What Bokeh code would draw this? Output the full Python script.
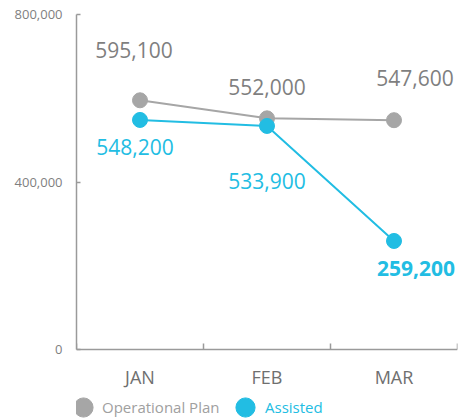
import numpy as np
from bokeh.plotting import figure
from bokeh.models import (ColumnDataSource, FactorRange, Range1d, LinearAxis, CategoricalAxis,
                          FixedTicker, Legend, LegendItem, NumeralTickFormatter)
from bokeh.core.properties import value
from bokeh.embed import file_html
from bokeh.resources import INLINE

# ---- data ----
months = ["JAN", "FEB", "MAR"]
plan = [595100, 552000, 547600]
assisted = [548200, 533900, 259200]
y_ticks = [0, 400000, 800000]
series_names = ["Operational Plan", "Assisted"]

# ---- style ----
GRAY = "#a6a6a6"
GRAY_TEXT = "#7f7f7f"
AXIS = "#9a9a9a"
CYAN = "#22bde3"
FONT = "Open Sans"

W, H = 460, 420
TOP, AXIS_Y, LEFT, RIGHT = 14, 349, 76, 457   # layout in px
# frame runs down to the canvas bottom; value 0 sits at AXIS_Y
y_start = -y_ticks[-1] * (H - AXIS_Y) / (AXIS_Y - TOP)

# label offsets (screen px) per point
plan_dx = [-6, 0, 21]
plan_dy = [-50, -31, -42]
asst_dx = [-5, 0, 22]
asst_dy = [27, 55, 28]
asst_style = ["normal", "normal", "bold"]

p = figure(width=W, height=H,
           x_range=FactorRange(factors=months, range_padding=0),
           y_range=Range1d(y_start, y_ticks[-1]),
           output_backend="svg", toolbar_location=None,
           x_axis_location=None, y_axis_location=None,
           min_border_left=LEFT, min_border_right=W - RIGHT, min_border_top=TOP, min_border_bottom=0)
p.outline_line_color = None
p.xgrid.visible = False
p.ygrid.visible = False
p.background_fill_color = "white"
p.border_fill_color = "white"

# y axis
yax = LinearAxis(ticker=FixedTicker(ticks=y_ticks, minor_ticks=[]),
                 formatter=NumeralTickFormatter(format="0,0"),
                 bounds=(y_ticks[0], y_ticks[-1]),
                 major_tick_in=4, major_tick_out=0, minor_tick_line_color=None,
                 major_label_standoff=14,
                 axis_line_color=AXIS, axis_line_width=1.5,
                 major_tick_line_color=AXIS, major_tick_line_width=1.5,
                 major_label_text_font=FONT, major_label_text_font_size="13px",
                 major_label_text_color=GRAY_TEXT)
p.add_layout(yax, "left")

# x axis: boundary ticks, fixed at value 0
tick_axis = LinearAxis(ticker=FixedTicker(ticks=list(range(len(months) + 1)), minor_ticks=[]),
                       fixed_location=0,
                       major_tick_in=6, major_tick_out=0, minor_tick_line_color=None,
                       major_label_text_font_size="0px", major_label_standoff=0,
                       major_label_text_alpha=0,
                       axis_line_color=AXIS, axis_line_width=1.5,
                       major_tick_line_color=AXIS, major_tick_line_width=1.5)
p.add_layout(tick_axis, "below")

cat_axis = CategoricalAxis(fixed_location=0,
                           axis_line_color=None, major_tick_line_color=None,
                           minor_tick_line_color=None,
                           major_tick_in=0, major_tick_out=0,
                           major_label_standoff=15,
                           major_label_text_font=FONT, major_label_text_font_size="18px",
                           major_label_text_color="#6f6f6f")
p.add_layout(cat_axis, "below")

src = ColumnDataSource(dict(
    month=months, plan=plan, assisted=assisted,
    plan_lbl=[f"{v:,}" for v in plan], asst_lbl=[f"{v:,}" for v in assisted],
    plan_dx=plan_dx, plan_dy=plan_dy, asst_dx=asst_dx, asst_dy=asst_dy,
    asst_style=asst_style,
))

p.line("month", "plan", source=src, line_color=GRAY, line_width=2)
p.scatter("month", "plan", source=src, size=15, fill_color=GRAY, line_color=GRAY)
p.line("month", "assisted", source=src, line_color=CYAN, line_width=2)
p.scatter("month", "assisted", source=src, size=15, fill_color=CYAN, line_color=CYAN)

p.text("month", "plan", text="plan_lbl", source=src, x_offset="plan_dx", y_offset="plan_dy",
       text_align="center", text_baseline="middle", text_font=value(FONT),
       text_font_size="21px", text_color=GRAY_TEXT)
p.text("month", "assisted", text="asst_lbl", source=src, x_offset="asst_dx", y_offset="asst_dy",
       text_align="center", text_baseline="middle", text_font=value(FONT),
       text_font_size="21px", text_color=CYAN, text_font_style="asst_style")

# legend swatches: ellipses with a NaN position (nothing drawn in the plot),
# rendered in the legend as round dots
sw_plan = p.ellipse(x=months[:1], y=np.array([np.nan]), width=19, height=19,
                    width_units="screen", height_units="screen",
                    fill_color=GRAY, line_color=GRAY)
sw_asst = p.ellipse(x=months[:1], y=np.array([np.nan]), width=19, height=19,
                    width_units="screen", height_units="screen",
                    fill_color=CYAN, line_color=CYAN)

# legends (one per series so each label keeps its own colour)
leg_common = dict(glyph_width=24, glyph_height=24, padding=0, margin=0,
                  border_line_color=None, background_fill_alpha=0,
                  label_text_font=FONT, label_text_font_size="15px",
                  orientation="horizontal")
leg1 = Legend(items=[LegendItem(label=series_names[0], renderers=[sw_plan])],
              location=(-5, 1), label_standoff=7, label_text_color="#a0a0a0", **leg_common)
leg2 = Legend(items=[LegendItem(label=series_names[1], renderers=[sw_asst])],
              location=(157, 1), label_standoff=8, label_text_color=CYAN, **leg_common)
p.add_layout(leg1, "center")
p.add_layout(leg2, "center")

open("out.html", "w").write(file_html(p, INLINE))
